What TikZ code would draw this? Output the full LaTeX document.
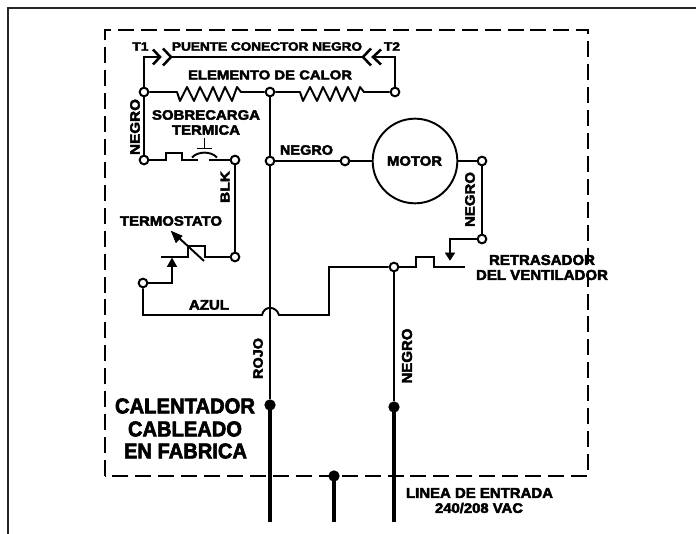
\documentclass[tikz,border=0pt]{standalone}
\usepackage{fontspec}
\usepackage{graphicx}
\setmainfont{Liberation Sans}[BoldFeatures={FakeBold=3}]
\newlength\pxu
\setlength\pxu{0.75pt}
\newcommand\fitlbl[3]{\resizebox{#1\pxu}{#2\pxu}{\bfseries #3}}
\tikzset{
  wire/.style={line width=1.45pt,line join=miter,line cap=butt},
  chev/.style={line width=1.9pt,line join=miter},
  feed/.style={line width=3.6pt},
  term/.style={circle,draw,line width=1.5pt,fill=white,inner sep=0pt,minimum size=6.5pt},
  dot/.style={circle,fill=black,inner sep=0pt,minimum size=8.5pt},
  lbl/.style={inner sep=0pt,text=black},
  tip/.style={fill=black,draw=black,line width=0.6pt}
}
\begin{document}
\begin{tikzpicture}[x=0.75pt,y=-0.75pt]
\useasboundingbox (0,0) rectangle (696,534);
% sheet edge
\draw[line width=1.5pt,black!85] (8,534) -- (8,8) -- (696,8);
% factory-wired box
\draw[line width=1.7pt,dash pattern=on 12pt off 5.2pt] (105,476) -- (105,30) -- (588,30) -- (588,476) -- cycle;
% junctions
\coordinate (j1) at (144,57);
\coordinate (c1) at (160,57);
\coordinate (c2) at (171,57);
\coordinate (c3) at (363,57);
\coordinate (c4) at (373,57);
\coordinate (j2) at (395,57);
\coordinate (thA) at (172,283);
\coordinate (rojoBump) at (262,315);
\coordinate (rojoBumpE) at (279,315);
\coordinate (az0) at (143,315);
\coordinate (az1) at (329,315);
\coordinate (az2) at (329,267);
\node[term] (t1) at (144,92) {};
\node[term] (t2) at (395,92) {};
\node[term] (tm) at (270,92) {};
\node[term] (tl) at (144,160) {};
\node[term] (tb) at (235,160) {};
\node[term] (tn) at (270,161) {};
\node[term] (tmi) at (345,161) {};
\node[term] (tmo) at (482,161) {};
\node[term] (tf) at (482,239) {};
\node[term] (tt) at (235,257) {};
\node[term] (ta) at (143,283) {};
\node[term] (tr) at (394,267) {};
\node[dot] (dr) at (270,405) {};
\node[dot] (dn) at (394,407) {};
\node[dot] (dg) at (334,476) {};
\coordinate (er) at (270,522);
\coordinate (en) at (394,522);
\coordinate (eg) at (334,522);
\node[draw,circle,line width=1.45pt,minimum size=63.5pt,inner sep=0pt] (motor) at (415,161) {};
% wires
\draw[wire] (t1) -- (j1) -- (c1);
\draw[wire] (c2) -- (c3);
\draw[wire] (c4) -- (j2) -- (t2);
\draw[chev] (153,49.5) -- (c1) -- (153,64.5);
\draw[chev] (163,48.5) -- (c2) -- (163,65.5);
\draw[chev] (371,48.5) -- (c3) -- (371,65.5);
\draw[chev] (381,49.5) -- (c4) -- (381,64.5);
\draw[wire] (t1) -- (tl);
% heating elements
\draw[wire,line join=round] (t1) -- (177,92) -- (180,101) -- (187,87) -- (194,101) -- (200,87) -- (207,101) -- (213,87) -- (219,101) -- (225,87) -- (232,101) -- (237,87) -- (241,92) -- (tm);
\draw[wire,line join=round] (tm) -- (300,92) -- (303,101) -- (310,87) -- (317,101) -- (323,87) -- (330,101) -- (336,87) -- (342,101) -- (348,87) -- (355,101) -- (360,87) -- (364,92) -- (t2);
\draw[wire] (tm) -- (tn);
\draw[wire] (tn) -- (dr);
\draw[wire] (tn) -- (tmi);
\draw[wire] (tmi) -- (motor);
\draw[wire] (motor) -- (tmo);
\draw[wire] (tmo) -- (tf);
% overload
\draw[wire] (tl) -- (166,160) -- (166,153) -- (182,153) -- (182,160) -- (198,160);
\draw[wire] (192,157.5) .. controls (198,151) and (211,151) .. (217,157.5);
\draw[wire] (197,148.5) -- (212,148.5);
\draw[wire] (204.5,138) -- (204.5,148.5);
\draw[wire] (209,160) -- (tb);
\draw[wire] (tb) -- (tt);
% thermostat
\draw[wire] (tt) -- (205,257) -- (205,246) -- (188,246) -- (188,257) -- (161,257);
\draw[wire] (204,261) -- (178,237);
\draw[tip] (171.5,231.5) -- (182,236) -- (176,242.5) -- cycle;
\draw[wire] (ta) -- (thA) -- (172,266);
\draw[tip] (172,258.5) -- (176.5,266.5) -- (167.5,266.5) -- cycle;
% blue wire
\draw[wire] (ta) -- (az0) -- (rojoBump) .. controls (264,305.5) and (276,305.5) .. (rojoBumpE) -- (az1) -- (az2) -- (tr);
% fan delay
\draw[wire] (tr) -- (416,267) -- (416,257) -- (434,257) -- (434,267) -- (465,267);
\draw[wire] (tf) -- (450,239) -- (450,253);
\draw[tip] (450,260) -- (445.5,253) -- (454.5,253) -- cycle;
\draw[wire] (tr) -- (dn);
% line feed
\draw[feed] (dr.center) -- (er);
\draw[feed] (dn.center) -- (en);
\draw[feed] (dg.center) -- (eg);
% labels
\node[lbl] (l1) at (140.5,46.5) {\fitlbl{16}{8.5}{T1}};
\node[lbl] (l2) at (267,46.5) {\fitlbl{190}{8.5}{PUENTE CONECTOR NEGRO}};
\node[lbl] (l3) at (392,46.5) {\fitlbl{16}{8.5}{T2}};
\node[lbl] (l4) at (270,75) {\fitlbl{164}{9}{ELEMENTO DE CALOR}};
\node[lbl,rotate=90] (l5) at (135,127) {\fitlbl{56}{9.5}{NEGRO}};
\node[lbl] (l6) at (206,115) {\fitlbl{108}{9.5}{SOBRECARGA}};
\node[lbl] (l7) at (206,130) {\fitlbl{68}{9.5}{TERMICA}};
\node[lbl,rotate=90] (l8) at (225,187) {\fitlbl{32}{9}{BLK}};
\node[lbl] (l9) at (171,221) {\fitlbl{102}{9.5}{TERMOSTATO}};
\node[lbl] (l10) at (209,305) {\fitlbl{40}{9.5}{AZUL}};
\node[lbl,rotate=90] (l11) at (258,358.5) {\fitlbl{41}{9.5}{ROJO}};
\node[lbl] (l12) at (306.5,150) {\fitlbl{53}{9.5}{NEGRO}};
\node[lbl] (l13) at (414.5,161) {\fitlbl{55}{9.5}{MOTOR}};
\node[lbl,rotate=90] (l14) at (470,199.5) {\fitlbl{55}{9.5}{NEGRO}};
\node[lbl] (l15) at (542,260) {\fitlbl{106}{10}{RETRASADOR}};
\node[lbl] (l16) at (542,275) {\fitlbl{132}{10}{DEL VENTILADOR}};
\node[lbl,rotate=90] (l17) at (407,356) {\fitlbl{55}{10}{NEGRO}};
\node[lbl] (l18) at (185,406) {\fitlbl{140}{15}{CALENTADOR}};
\node[lbl] (l19) at (185,429) {\fitlbl{114}{15}{CABLEADO}};
\node[lbl] (l20) at (185.5,451) {\fitlbl{123}{15}{EN FABRICA}};
\node[lbl] (l21) at (479.5,493) {\fitlbl{147}{10}{LINEA DE ENTRADA}};
\node[lbl] (l22) at (479,508) {\fitlbl{88}{10}{240/208 VAC}};
\end{tikzpicture}
\end{document}
